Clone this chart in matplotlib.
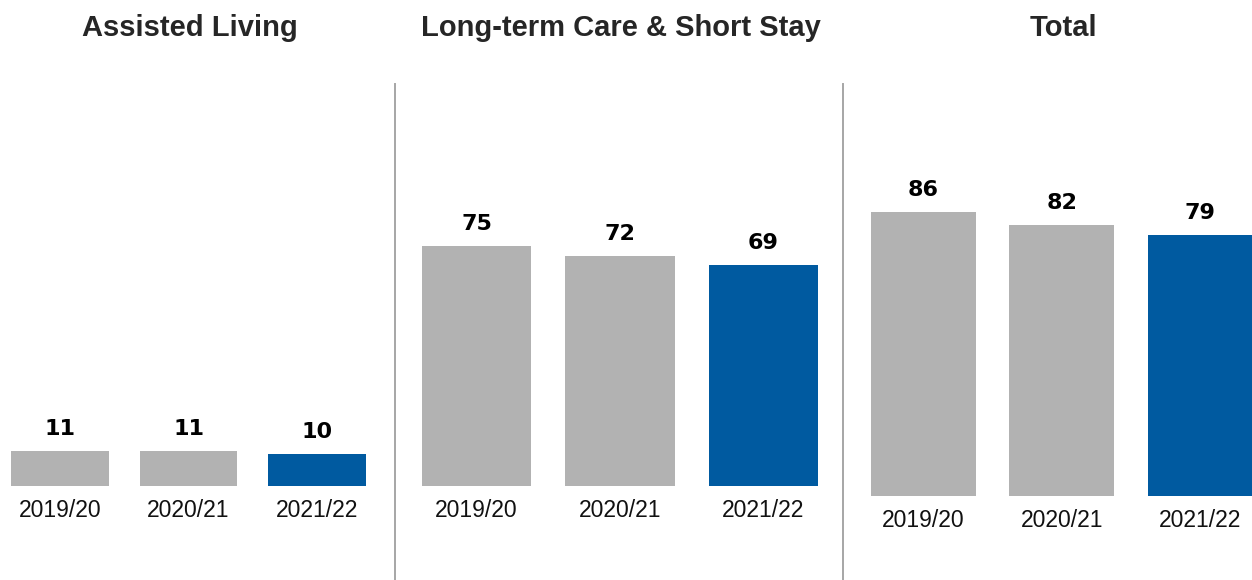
import matplotlib
matplotlib.use("Agg")
import matplotlib.pyplot as plt
from matplotlib.lines import Line2D

plt.rcParams['font.family'] = ['Liberation Sans', 'DejaVu Sans']

categories = ['2019/20', '2020/21', '2021/22']
assisted_living = [11, 11, 10]
long_term_care = [75, 72, 69]
total = [86, 82, 79]
panel_titles = ['Assisted Living', 'Long-term Care & Short Stay', 'Total']

GRAY = '#b2b2b2'
BLUE = '#005aa0'
bar_colors = [GRAY, GRAY, BLUE]

W, H = 1252, 580
fig = plt.figure(figsize=(W / 100, H / 100), dpi=100)
fig.patch.set_facecolor('white')

# panel layout in pixels: (left, right, baseline_from_top, top_from_top, px_per_unit, xlim)
panels = [
    (assisted_living, 0, 395, 485.7, 85, 3.2, (-0.467, 2.607)),
    (long_term_care, 395, 844, 485.5, 85, 3.19, (-0.568, 2.561)),
    (total, 844, 1252, 496.0, 85, 3.3, (-0.575, 2.375)),
]

for vals, left, right, base, top, ppu, xl in panels:
    ax = fig.add_axes([left / W, (H - base) / H, (right - left) / W, (base - top) / H])
    xs = list(range(len(categories)))
    ax.bar(xs, vals, width=0.76, color=bar_colors)
    ax.set_xlim(*xl)
    ax.set_ylim(0, (base - top) / ppu)
    for s in ax.spines.values():
        s.set_visible(False)
    ax.set_yticks([])
    ax.set_xticks(xs)
    ax.set_xticklabels(categories, fontsize=16.5, color='#111111')
    ax.tick_params(axis='x', length=0, pad=9.5)
    for x, v in zip(xs, vals):
        ax.annotate(str(v), (x, v), xytext=(0, 11.5), textcoords='offset points',
                    ha='center', va='baseline', fontsize=16,
                    fontweight='bold', family='DejaVu Sans', color='black')
    ax.patch.set_alpha(0)

title_x = [190, 621, 1063]
for t, x in zip(panel_titles, title_x):
    fig.text(x / W, 1 - 36 / H, t, ha='center', va='baseline', fontsize=21,
             fontweight='bold', color='#262626')

for x in [394.8, 843.3]:
    fig.add_artist(Line2D([x / W, x / W], [0, 1 - 84 / H], transform=fig.transFigure,
                          color='#a6a6a6', linewidth=1.4))

fig.savefig('out.png', dpi=100, facecolor='white')
